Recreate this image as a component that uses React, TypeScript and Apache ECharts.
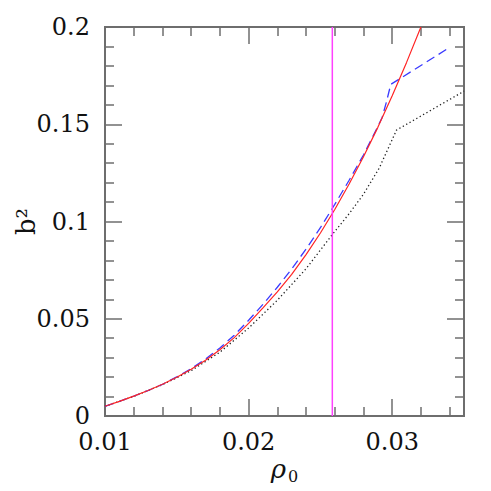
import React, { useEffect, useRef } from "react";
import * as echarts from "echarts";

// x = rho_0, y = b^2
const redX = [0.010, 0.011, 0.012, 0.013, 0.014, 0.015, 0.016, 0.017, 0.018, 0.019, 0.020, 0.021, 0.022, 0.023, 0.024, 0.025, 0.026, 0.027, 0.028, 0.029, 0.030, 0.031, 0.032];
const redY = [0.0050, 0.0075, 0.0102, 0.0131, 0.0163, 0.0199, 0.0240, 0.0287, 0.0341, 0.0403, 0.0476, 0.0556, 0.0638, 0.0728, 0.0830, 0.0941, 0.1062, 0.1193, 0.1333, 0.1484, 0.1646, 0.1818, 0.2000];

const blueX = [0.010, 0.011, 0.012, 0.013, 0.014, 0.015, 0.016, 0.017, 0.018, 0.019, 0.020, 0.021, 0.022, 0.023, 0.024, 0.025, 0.026, 0.027, 0.028, 0.029, 0.0293, 0.0296, 0.0299, 0.034];
const blueY = [0.0050, 0.0075, 0.0102, 0.0131, 0.0163, 0.0201, 0.0243, 0.0293, 0.0350, 0.0415, 0.0492, 0.0574, 0.0662, 0.0756, 0.0858, 0.0968, 0.1088, 0.1212, 0.1342, 0.1488, 0.1535, 0.1615, 0.1705, 0.1895];

const blackX = [0.010, 0.012, 0.014, 0.016, 0.018, 0.020, 0.022, 0.024, 0.0258, 0.027, 0.028, 0.0291, 0.0303, 0.035];
const blackY = [0.0050, 0.0101, 0.0161, 0.0233, 0.0328, 0.0452, 0.0595, 0.0757, 0.0930, 0.1040, 0.1140, 0.1275, 0.1470, 0.1670];

const markerX = [0.02583, 0.02583];
const markerY = [0, 0.2];

const xMajorTicks = [0.01, 0.02, 0.03];
const xMinorTicks = [0.012, 0.014, 0.016, 0.018, 0.022, 0.024, 0.026, 0.028, 0.032, 0.034];

const zip = (xs: number[], ys: number[]) => xs.map((x, i) => [x, ys[i]]);

const FRAME = "#6e6e6e";
const FONT = "DejaVu Serif";

export default function App() {
  const ref = useRef<HTMLDivElement>(null);
  useEffect(() => {
    if (!ref.current) return;
    const chart = echarts.init(ref.current, undefined, { renderer: "svg" });
    const baseX = {
      type: "value" as const,
      min: 0.01,
      max: 0.035,
      splitLine: { show: false },
      axisLine: { show: false },
    };
    const baseY = {
      type: "value" as const,
      min: 0,
      max: 0.2,
      interval: 0.05,
      splitLine: { show: false },
      axisLine: { show: false },
      minorTick: { show: true, splitNumber: 5, length: 9, lineStyle: { color: FRAME, width: 1.5 } },
      axisTick: { inside: true, length: 17, lineStyle: { color: FRAME, width: 1.5 } },
    };
    chart.setOption({
      animation: false,
      backgroundColor: "#ffffff",
      grid: {
        left: 105,
        right: 27,
        top: 27,
        bottom: 75,
        show: true,
        borderColor: FRAME,
        borderWidth: 2,
        backgroundColor: "transparent",
        outerBoundsMode: "none",
        containLabel: false,
      },
      xAxis: [
        {
          ...baseX,
          position: "bottom",
          name: "{a|ρ}{b|0}",
          nameLocation: "middle",
          nameGap: 38,
          nameMoveOverlap: false,
          nameTextStyle: {
            rich: {
              a: { fontFamily: FONT, fontStyle: "italic", fontSize: 26, color: "#111", lineHeight: 30 },
              b: { fontFamily: FONT, fontSize: 16, color: "#111", lineHeight: 16, verticalAlign: "bottom", padding: [0, 0, 0, 2] },
            },
          },
          axisTick: { inside: true, length: 17, customValues: xMajorTicks, lineStyle: { color: FRAME, width: 1.5 } },
          axisLabel: {
            customValues: xMajorTicks,
            fontFamily: FONT,
            fontSize: 24,
            lineHeight: 20,
            color: "#111",
            margin: 16,
            formatter: (v: number) => String(Number(v.toFixed(4))),
          },
        },
        {
          ...baseX,
          position: "bottom",
          axisTick: { inside: true, length: 9, customValues: xMinorTicks, lineStyle: { color: FRAME, width: 1.5 } },
          axisLabel: { show: false },
        },
        {
          ...baseX,
          position: "top",
          axisTick: { inside: true, length: 17, customValues: xMajorTicks, lineStyle: { color: FRAME, width: 1.5 } },
          axisLabel: { show: false },
        },
        {
          ...baseX,
          position: "top",
          axisTick: { inside: true, length: 9, customValues: xMinorTicks, lineStyle: { color: FRAME, width: 1.5 } },
          axisLabel: { show: false },
        },
      ],
      yAxis: [
        {
          ...baseY,
          position: "left",
          name: "b²",
          nameLocation: "middle",
          nameRotate: 90,
          nameGap: 66,
          nameMoveOverlap: false,
          nameTextStyle: { fontFamily: FONT, fontSize: 26, color: "#111" },
          axisLabel: { fontFamily: FONT, fontSize: 24, lineHeight: 20, color: "#111", margin: 15 },
        },
        {
          ...baseY,
          position: "right",
          axisLabel: { show: false },
        },
      ],
      series: [
        {
          type: "line",
          data: zip(blackX, blackY),
          showSymbol: false,
          lineStyle: { color: "#222222", width: 1.3, type: [1.3, 2.6] },
        },
        {
          type: "line",
          data: zip(blueX, blueY),
          showSymbol: false,
          lineStyle: { color: "#3a3aff", width: 1.3, type: [9, 5] },
        },
        {
          type: "line",
          data: zip(redX, redY),
          showSymbol: false,
          lineStyle: { color: "#ff2424", width: 1.2 },
        },
        {
          type: "line",
          data: zip(markerX, markerY),
          showSymbol: false,
          lineStyle: { color: "#ff40ff", width: 1.5 },
        },
      ],
    });
    return () => chart.dispose();
  }, []);
  return <div ref={ref} style={{ position: "fixed", left: 0, top: 0, width: 491, height: 491 }} />;
}
